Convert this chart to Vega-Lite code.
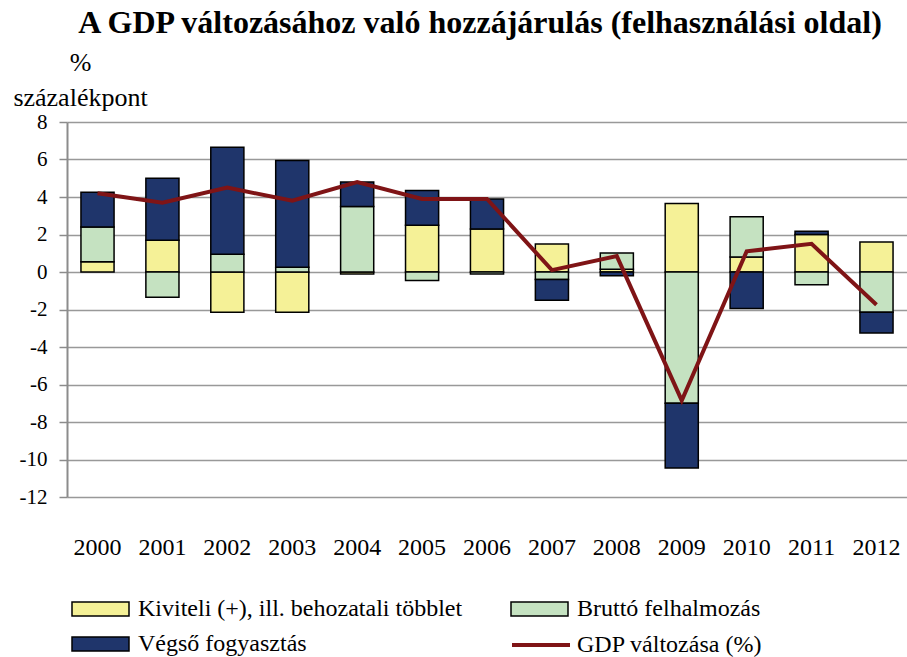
{
  "$schema": "https://vega.github.io/schema/vega-lite/v6.json",
  "autosize": {"type": "none"},
  "padding": {"left": 67, "top": 122, "right": 0, "bottom": 160},
  "width": 840,
  "height": 375,
  "background": "white",
  "config": {
    "font": "Liberation Serif",
    "view": {"stroke": null},
    "axis": {"labelFont": "Liberation Serif", "titleFont": "Liberation Serif"},
    "legend": {"labelFont": "Liberation Serif", "titleFont": "Liberation Serif"},
    "title": {"font": "Liberation Serif"}
  },
  "title": {
    "text": "A GDP változásához  való hozzájárulás (felhasználási oldal)",
    "anchor": "middle",
    "frame": "group",
    "dx": -7,
    "offset": 9,
    "fontSize": 32,
    "fontWeight": "bold",
    "font": "Liberation Serif",
    "color": "black"
  },
  "datasets": {
    "bars": [
      {"year": "2000", "series": "Kiviteli (+), ill. behozatali többlet", "ord": 1, "value": 0.55},
      {"year": "2000", "series": "Bruttó felhalmozás", "ord": 2, "value": 1.85},
      {"year": "2000", "series": "Végső fogyasztás", "ord": 3, "value": 1.85},
      {"year": "2001", "series": "Kiviteli (+), ill. behozatali többlet", "ord": 1, "value": 1.7},
      {"year": "2001", "series": "Bruttó felhalmozás", "ord": 2, "value": -1.35},
      {"year": "2001", "series": "Végső fogyasztás", "ord": 3, "value": 3.3},
      {"year": "2002", "series": "Kiviteli (+), ill. behozatali többlet", "ord": 1, "value": -2.15},
      {"year": "2002", "series": "Bruttó felhalmozás", "ord": 2, "value": 0.95},
      {"year": "2002", "series": "Végső fogyasztás", "ord": 3, "value": 5.7},
      {"year": "2003", "series": "Kiviteli (+), ill. behozatali többlet", "ord": 1, "value": -2.15},
      {"year": "2003", "series": "Bruttó felhalmozás", "ord": 2, "value": 0.25},
      {"year": "2003", "series": "Végső fogyasztás", "ord": 3, "value": 5.7},
      {"year": "2004", "series": "Kiviteli (+), ill. behozatali többlet", "ord": 1, "value": -0.1},
      {"year": "2004", "series": "Bruttó felhalmozás", "ord": 2, "value": 3.5},
      {"year": "2004", "series": "Végső fogyasztás", "ord": 3, "value": 1.3},
      {"year": "2005", "series": "Kiviteli (+), ill. behozatali többlet", "ord": 1, "value": 2.5},
      {"year": "2005", "series": "Bruttó felhalmozás", "ord": 2, "value": -0.45},
      {"year": "2005", "series": "Végső fogyasztás", "ord": 3, "value": 1.85},
      {"year": "2006", "series": "Kiviteli (+), ill. behozatali többlet", "ord": 1, "value": 2.3},
      {"year": "2006", "series": "Bruttó felhalmozás", "ord": 2, "value": -0.1},
      {"year": "2006", "series": "Végső fogyasztás", "ord": 3, "value": 1.6},
      {"year": "2007", "series": "Kiviteli (+), ill. behozatali többlet", "ord": 1, "value": 1.5},
      {"year": "2007", "series": "Bruttó felhalmozás", "ord": 2, "value": -0.4},
      {"year": "2007", "series": "Végső fogyasztás", "ord": 3, "value": -1.1},
      {"year": "2008", "series": "Kiviteli (+), ill. behozatali többlet", "ord": 1, "value": 0.15},
      {"year": "2008", "series": "Bruttó felhalmozás", "ord": 2, "value": 0.87},
      {"year": "2008", "series": "Végső fogyasztás", "ord": 3, "value": -0.2},
      {"year": "2009", "series": "Kiviteli (+), ill. behozatali többlet", "ord": 1, "value": 3.65},
      {"year": "2009", "series": "Bruttó felhalmozás", "ord": 2, "value": -7.0},
      {"year": "2009", "series": "Végső fogyasztás", "ord": 3, "value": -3.45},
      {"year": "2010", "series": "Kiviteli (+), ill. behozatali többlet", "ord": 1, "value": 0.8},
      {"year": "2010", "series": "Bruttó felhalmozás", "ord": 2, "value": 2.15},
      {"year": "2010", "series": "Végső fogyasztás", "ord": 3, "value": -1.95},
      {"year": "2011", "series": "Kiviteli (+), ill. behozatali többlet", "ord": 1, "value": 2.0},
      {"year": "2011", "series": "Bruttó felhalmozás", "ord": 2, "value": -0.68},
      {"year": "2011", "series": "Végső fogyasztás", "ord": 3, "value": 0.17},
      {"year": "2012", "series": "Kiviteli (+), ill. behozatali többlet", "ord": 1, "value": 1.6},
      {"year": "2012", "series": "Bruttó felhalmozás", "ord": 2, "value": -2.15},
      {"year": "2012", "series": "Végső fogyasztás", "ord": 3, "value": -1.1}
    ],
    "gdp": [
      {"year": "2000", "series": "GDP változása (%)", "value": 4.2},
      {"year": "2001", "series": "GDP változása (%)", "value": 3.7},
      {"year": "2002", "series": "GDP változása (%)", "value": 4.5},
      {"year": "2003", "series": "GDP változása (%)", "value": 3.8},
      {"year": "2004", "series": "GDP változása (%)", "value": 4.8},
      {"year": "2005", "series": "GDP változása (%)", "value": 3.9},
      {"year": "2006", "series": "GDP változása (%)", "value": 3.9},
      {"year": "2007", "series": "GDP változása (%)", "value": 0.1},
      {"year": "2008", "series": "GDP változása (%)", "value": 0.85},
      {"year": "2009", "series": "GDP változása (%)", "value": -6.85},
      {"year": "2010", "series": "GDP változása (%)", "value": 1.1},
      {"year": "2011", "series": "GDP változása (%)", "value": 1.5},
      {"year": "2012", "series": "GDP változása (%)", "value": -1.75}
    ],
    "ticks": [
      {"year": "2001"}, {"year": "2002"}, {"year": "2003"}, {"year": "2004"},
      {"year": "2005"}, {"year": "2006"}, {"year": "2007"}, {"year": "2008"},
      {"year": "2009"}, {"year": "2010"}, {"year": "2011"}, {"year": "2012"}
    ]
  },
  "encoding": {
    "x": {
      "field": "year",
      "type": "ordinal",
      "scale": {"paddingInner": 0.49, "paddingOuter": 0.215},
      "axis": {
        "title": null,
        "labelAngle": 0,
        "labelFontSize": 24,
        "labelFont": "Liberation Serif",
        "labelColor": "black",
        "labelPadding": 38,
        "domain": false,
        "ticks": false,
        "grid": false
      }
    },
    "y": {
      "field": "value",
      "type": "quantitative",
      "scale": {"domain": [-12, 8], "nice": false},
      "axis": {
        "values": [-12, -10, -8, -6, -4, -2, 0, 2, 4, 6, 8],
        "labelOverlap": false,
        "labelExpr": "replace(datum.label, '−', '-')",
        "title": ["%", "százalékpont"],
        "titleAngle": 0,
        "titleAlign": "center",
        "titleBaseline": "alphabetic",
        "titleX": 13,
        "titleY": -52,
        "titleLineHeight": 35,
        "titleFont": "Liberation Serif",
        "titleFontSize": 26,
        "titleFontWeight": "normal",
        "titleColor": "black",
        "labelFont": "Liberation Serif",
        "labelFontSize": 21,
        "labelColor": "black",
        "labelPadding": 12,
        "domainColor": "#8c8c8c",
        "domainWidth": 2,
        "tickColor": "#8c8c8c",
        "tickWidth": 1.5,
        "tickSize": 8,
        "gridColor": "#999999",
        "gridWidth": 1.5,
        "gridOpacity": 1
      }
    }
  },
  "layer": [
    {
      "data": {"name": "bars"},
      "mark": {"type": "bar", "stroke": "black", "strokeWidth": 1.5},
      "encoding": {
        "y": {
          "field": "value",
          "type": "quantitative",
          "stack": "zero"
        },
        "color": {
          "field": "series",
          "type": "nominal",
          "scale": {
            "domain": ["Kiviteli (+), ill. behozatali többlet", "Bruttó felhalmozás", "Végső fogyasztás"],
            "range": ["#F5F197", "#C5E2C1", "#1F356B"]
          },
          "legend": {
            "title": null,
            "orient": "none",
            "legendX": 21.5,
            "legendY": 475,
            "direction": "horizontal",
            "columns": 2,
            "columnPadding": 45,
            "rowPadding": 11,
            "symbolType": "M-2.85,-0.7H2.85V0.7H-2.85Z",
            "symbolSize": 400,
            "symbolStrokeColor": "black",
            "symbolStrokeWidth": 1.5,
            "symbolOpacity": 1,
            "labelFont": "Liberation Serif",
            "labelFontSize": 24,
            "labelColor": "black",
            "labelLimit": 500,
            "labelOffset": 25.5
          }
        },
        "order": {"field": "ord", "type": "quantitative"}
      }
    },
    {
      "data": {"name": "ticks"},
      "mark": {"type": "rule", "color": "#8c8c8c", "strokeWidth": 1.5},
      "encoding": {
        "x": {"field": "year", "type": "ordinal", "bandPosition": -0.48},
        "y": {"datum": 0},
        "y2": {"datum": -0.45}
      }
    },
    {
      "data": {"name": "gdp"},
      "mark": {"type": "line", "strokeWidth": 4},
      "encoding": {
        "stroke": {
          "field": "series",
          "type": "nominal",
          "scale": {"range": ["#7F1416"]},
          "legend": {
            "title": null,
            "orient": "none",
            "legendX": 443,
            "legendY": 492,
            "symbolType": "stroke",
            "symbolSize": 3364,
            "symbolStrokeWidth": 4,
            "labelFont": "Liberation Serif",
            "labelFontSize": 24,
            "labelColor": "black",
            "labelLimit": 500,
            "labelOffset": 5
          }
        }
      }
    }
  ]
}
